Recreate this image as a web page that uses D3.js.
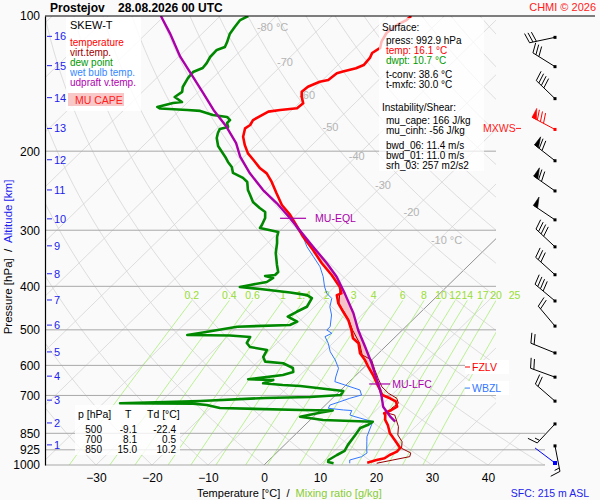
<!DOCTYPE html>
<html>
<head>
<meta charset="utf-8">
<script src="https://cdn.jsdelivr.net/npm/d3@7"></script>
<style>
  body { margin: 0; background: #fafafa; }
  svg text { font-family: "Liberation Sans", Arial, sans-serif; }
</style>
</head>
<body>
<svg id="chart" width="600" height="500"></svg>
<script>
// ---- data (pressure hPa, temperature °C) ----
const pressureTicks = [100, 200, 300, 400, 500, 600, 700, 850, 925, 1000];
const pressureLines = [200, 300, 400, 500, 600, 700, 850, 925, 1000];
const tempTicks = [-30, -20, -10, 0, 10, 20, 30, 40];
const mixRatios = [0.2, 0.4, 0.6, 1, 1.4, 2, 3, 4, 6, 8, 10, 12, 14, 17, 20, 25];
const isoLabelT = [-80, -70, -60, -50, -40, -30, -20, -10];
const isoLabelP = [105.8, 126.6, 150, 176.6, 205, 237.8, 273, 315];

const temperature = [
  [100,-55.9],[102.1,-56.0],[104.7,-56.8],[109.1,-57.2],[114.1,-56.5],[117.8,-55.6],[120.9,-56.1],
  [124.0,-55.6],[128.6,-55.4],[130.7,-56.2],[133.0,-57.9],[134.1,-58.7],[138.8,-59.0],[140.1,-60.2],
  [143.7,-61.4],[147.4,-61.6],[151.2,-60.7],[156.5,-59.2],[160.5,-59.4],[161.9,-62.1],[163.3,-63.9],
  [170.5,-65.1],[174.9,-64.7],[177.9,-65.0],[185.8,-63.8],[193.8,-62.0],[202.3,-59.9],[209.3,-57.7],
  [218.4,-55.0],[224.1,-52.9],[233.9,-50.5],[248.2,-47.5],[263.6,-44.4],[277.4,-41.1],[297.1,-37.2],
  [310.2,-34.8],[332,-30.6],[355.4,-26.6],[377.4,-22.7],[401,-19.1],[414.7,-17.6],[418.4,-18.1],
  [436.6,-16.3],[455.8,-13.9],[475.3,-11.5],[500.4,-9.1],[522.2,-7.3],[535.7,-5.4],[563.9,-3.3],
  [583.6,-1.2],[604,0.6],[630.3,3.0],[657.8,5.2],[680.6,7.0],[698.4,8.3],[710.3,10.3],[722.8,12.0],
  [741.5,13.1],[754.1,12.7],[767,12.0],[773.9,12.5],[793.8,13.4],[814.7,14.8],[848.5,16.6],
  [887.5,19.3],[916.5,21.2],[934,21.3],[950,20.6],[966,20.3],[975,19.2],[988,18.0]
];
const virtTemp = [
  [401,-19.0],[436.6,-16.2],[475.3,-11.4],[500.4,-8.9],[535.7,-5.2],[568.8,-2.6],[583.6,0.0],
  [614.3,2.4],[641,4.5],[669.3,6.7],[692.3,9.1],[710.3,11.5],[728.7,12.7],[747.6,12.4],[767,12.7],
  [773.9,14.2],[821.7,17.0],[857.3,18.4],[887.5,20.4],[917.9,21.5],[940,24.0],[958,24.5],
  [974.7,22.1],[991,19.8]
];
const dewPoint = [
  [100,-85.0],[102.1,-85.7],[105.8,-85.4],[109.7,-85.0],[114.3,-84.0],[117.2,-83.5],[119.0,-84.4],
  [123.4,-84.3],[127.3,-83.8],[130.6,-83.6],[133.3,-84.6],[137.4,-84.4],[143.9,-83.7],[147.6,-82.9],
  [151.5,-83.3],[155.4,-81.1],[156.2,-82.5],[159.4,-84.6],[160.7,-83.8],[161.9,-78.7],[162.7,-76.2],
  [166.1,-73.2],[167.8,-70.3],[170.5,-69.2],[173.1,-69.2],[176.6,-68.3],[178.5,-69.4],[182.2,-69.0],
  [186.9,-68.3],[194.7,-66.6],[200.8,-64.8],[206.0,-63.3],[211.4,-61.9],[216.9,-60.3],[223.6,-59.0],
  [229.4,-56.3],[234.2,-54.8],[244.1,-53.2],[250.4,-51.9],[259.6,-50.1],[267.7,-47.8],[273.2,-46.1],
  [281.8,-45.0],[292.1,-44.3],[296.6,-44.1],[298.9,-42.6],[302.7,-40.1],[310.6,-39.4],[320.3,-38.3],
  [337.2,-36.7],[358.5,-34.3],[371.6,-32.8],[377.4,-32.8],[379.3,-34.4],[383.2,-32.6],[391.2,-33.0],
  [397.2,-35.4],[401.3,-36.9],[405.5,-32.9],[412.8,-26.9],[418.4,-23.4],[424.8,-22.0],[444.2,-21.3],
  [455.8,-22.2],[467.4,-22.9],[479.5,-20.3],[487.7,-21.0],[492.0,-30.1],[508.1,-35.6],[513.4,-37.5],
  [514.7,-29.8],[518.6,-25.9],[534.9,-25.4],[546.0,-24.1],[554.4,-20.5],[574.7,-19.9],[588.6,-18.7],
  [593.5,-15.2],[608.0,-12.6],[620.6,-11.8],[630.3,-13.1],[644.3,-18.5],[646.6,-13.9],[657.8,-15.1],
  [663.5,-11.3],[666.9,-8.0],[684.1,0.6],[698.4,0.9],[705.5,-4.2],[709.1,-12.1],[720.1,-23.1],
  [728.7,-37.0],[730.0,-23.9],[735.3,-21.2],[746.7,-18.3],[754.1,-3.6],[756.3,2.3],[764.1,0.6],
  [780.5,-2.4],[793.8,2.3],[800.8,11.5],[814.7,11.2],[827,10.4],[857.3,10.8],[902,11.3],[930,11.8],
  [950,11.2],[974.7,10.6],[984.7,10.9],[991,12.1]
];
const wetBulb = [
  [272.8,-42.3],[284.6,-39.6],[297.1,-37.5],[310.2,-34.8],[326.4,-32.3],[343.6,-29.3],[361.7,-26.3],
  [380.7,-23.9],[401.0,-21.8],[414.7,-20.2],[425.5,-18.4],[444.2,-17.2],[463.3,-15.4],[492.0,-13.5],
  [500.4,-13.5],[508.9,-12.0],[517.8,-12.6],[535.7,-10.8],[559.5,-8.9],[583.6,-6.5],[608.9,-4.4],
  [636.7,-3.3],[652.2,-2.6],[663.5,-0.2],[680.6,3.4],[698.4,4.6],[710.3,3.1],[722.8,2.0],[735.3,0.8],
  [747.6,1.1],[754.1,4.1],[756.3,5.7],[773.9,6.2],[780.5,7.4],[800.8,11.5],[827,12.2],[864.8,13.2],
  [887.5,14.1],[926,15.6],[940.3,16.2],[958.3,15.9],[974.7,14.4],[991.3,15.0]
];
const parcel = [
  [100,-100.6],[109.3,-95.8],[123.2,-89.7],[135.3,-84.3],[148.6,-78.9],[161.9,-74.0],[176.5,-68.6],
  [191.9,-63.9],[205.7,-60.7],[224.1,-55.9],[244.1,-50.5],[261.3,-45.6],[282.2,-40.5],[300,-36.6],
  [326.4,-31.2],[355.4,-25.7],[380.7,-21.5],[414.7,-17.0],[459.3,-11.8],[500.4,-7.9],[545.1,-3.6],
  [593.5,0.6],[646.6,4.6],[680.6,7.0],[704.4,8.5],[741.5,10.6],[780.5,13.7],[800.8,15.5]
];
const capeTop = 282, capeBottom = 655;

const kmValues = [1, 2, 3, 4, 5, 6, 7, 8, 9, 10, 11, 12, 13, 14, 15, 16];
const kmPressure = [902, 806, 717, 634, 560, 488, 429, 375, 325, 283, 244, 209, 178, 152, 129, 111];
const windDir = [169, 223, 311, 290, 292, 320, 310, 312, 313, 304, 305, 308, 298, 314, 302, 258];
const windSpd = [15, 15, 20, 20, 20, 20, 40, 30, 40, 50, 70, 70, 80, 40, 30, 30];
const maxWindKm = 13;
const sfcWindDir = 307;

const levelNames = ["MU-EQL", "MU-LFC"];
const levelP = [282.2, 660];
const markNames = ["FZLV", "WBZL"];
const markP = [605, 674];
const markColors = ["#ff0000", "#3377ff"];

const legendLabels = ["temperature", "virt.temp.", "dew point", "wet bulb temp.", "udpraft v.temp."];
const legendColors = ["#ff0000", "#a00000", "#009900", "#3388ff", "#b000b0"];

const surfaceLines = [
  ["Surface:", "#000", 0], ["press: 992.9 hPa", "#000", 1], ["temp: 16.1 °C", "#ff0000", 1],
  ["dwpt: 10.7 °C", "#009900", 1], ["t-conv: 38.6 °C", "#000", 1], ["t-mxfc: 30.0 °C", "#000", 1],
  ["Instability/Shear:", "#000", 0], ["mu_cape: 166 J/kg", "#000", 1], ["mu_cinh: -56 J/kg", "#000", 1],
  ["bwd_06: 11.4 m/s", "#000", 1], ["bwd_01: 11.0 m/s", "#000", 1], ["srh_03: 257 m2/s2", "#000", 1]
];
const surfaceLineY = [27, 40, 50, 60, 74, 84, 107, 120, 130, 145, 155, 165];

const tableP = [500, 700, 850];
const tableT = [-9.1, 8.1, 15.0];
const tableTd = [-22.4, 0.5, 10.2];

// ---- scales ----
const svg = d3.select("#chart");
const plotTop = 16, plotBottom = 465, plotLeft = 45;
const y = d3.scaleLog().domain([1000, 100]).range([plotBottom, plotTop]);
const tx = d3.scaleLinear().domain([-30, 40]).range([96, 488]);
const SKEW = 1.025;
const X = (t, p) => tx(t) + SKEW * (plotBottom - y(p));

svg.append("rect").attr("width", 600).attr("height", 500).attr("fill", "#fafafa");

svg.append("clipPath").attr("id", "plotclip")
  .append("path").attr("d", `M${plotLeft},${plotTop}L496,${plotTop}L496,433L545,433L545,${plotBottom}L${plotLeft},${plotBottom}Z`);

const grid = svg.append("g").attr("clip-path", "url(#plotclip)");
const line = d3.line().x(d => X(d[1], d[0])).y(d => y(d[0]));

// isotherms
d3.range(-150, 61, 10).forEach(t => {
  grid.append("line")
    .attr("x1", X(t, 1000)).attr("y1", y(1000)).attr("x2", X(t, 100)).attr("y2", y(100))
    .attr("stroke", t === 0 ? "#777" : "#d6d6d6").attr("stroke-width", 0.8);
});

// dry adiabats
const pSteps = d3.range(0, 41).map(i => 1000 * Math.pow(0.1, i / 40));
d3.range(-40, 231, 10).forEach(th => {
  const pts = pSteps.map(p => [p, (th + 273.15) * Math.pow(p / 1000, 0.2857) - 273.15]);
  grid.append("path").attr("d", line(pts)).attr("fill", "none")
    .attr("stroke", "#d6d6d6").attr("stroke-width", 0.8);
});

// mixing ratio lines
const tdFromW = (w, p) => {
  const e = w * p / (622 + w);
  const a = Math.log(e / 6.112);
  return 243.5 * a / (17.67 - a);
};
const mixTop = 430;
const mixP = d3.range(0, 21).map(i => 1000 * Math.pow(mixTop / 1000, i / 20));
mixRatios.forEach(w => {
  grid.append("path").attr("d", line(mixP.map(p => [p, tdFromW(w, p)])))
    .attr("fill", "none").attr("stroke", "#aaee77").attr("stroke-width", 0.8);
});

// pressure lines
pressureLines.forEach(p => {
  svg.append("line").attr("x1", plotLeft).attr("x2", p >= 850 ? 545 : 496)
    .attr("y1", y(p)).attr("y2", y(p)).attr("stroke", "#a8a8a8").attr("stroke-width", 1);
});

// isotherm labels
isoLabelT.forEach((t, i) => {
  const lab = (t === -80 || t === -10) ? `${t} °C` : `${t}`;
  svg.append("text").attr("x", X(t, isoLabelP[i]) - 8).attr("y", y(isoLabelP[i]) + 4)
    .attr("font-size", 11).attr("fill", "#b4b4b4").text(lab);
});

// mixing ratio labels
mixRatios.forEach(w => {
  svg.append("text").attr("x", X(tdFromW(w, mixTop), mixTop)).attr("y", y(mixTop) - 1)
    .attr("text-anchor", "middle").attr("font-size", 10.5).attr("fill", "#99dd33")
    .text(w);
});

// CAPE area
const capeParcel = parcel.filter(d => d[0] >= capeTop && d[0] <= capeBottom);
const capeEnv = temperature.filter(d => d[0] >= capeTop && d[0] <= capeBottom).reverse();
svg.append("path").attr("d", line(capeParcel.concat(capeEnv)) + "Z")
  .attr("fill", "#f6c4c8").attr("stroke", "none");

// profiles
const curves = svg.append("g").attr("clip-path", "url(#plotclip)").attr("fill", "none")
  .attr("stroke-linejoin", "round");
curves.append("path").attr("d", line(wetBulb)).attr("stroke", "#3377ff").attr("stroke-width", 1);
curves.append("path").attr("d", line(dewPoint)).attr("stroke", "#008800").attr("stroke-width", 2.6);
curves.append("path").attr("d", line(virtTemp)).attr("stroke", "#990000").attr("stroke-width", 1);
curves.append("path").attr("d", line(temperature)).attr("stroke", "#ff0000").attr("stroke-width", 2.6);
curves.append("path").attr("d", line(parcel)).attr("stroke", "#aa00aa").attr("stroke-width", 2.4);

// EQL / LFC marks
const parcelAt = p => {
  const i = d3.bisector(d => d[0]).left(parcel, p);
  const a = parcel[Math.max(i - 1, 0)], b = parcel[Math.min(i, parcel.length - 1)];
  const f = b[0] === a[0] ? 0 : (Math.log(p) - Math.log(a[0])) / (Math.log(b[0]) - Math.log(a[0]));
  return a[1] + f * (b[1] - a[1]);
};
levelNames.forEach((nm, i) => {
  const p = levelP[i], xp = X(parcelAt(p), p);
  const off = i === 0 ? [-10, 16, 25] : [-9, 12, 14];
  svg.append("line").attr("x1", xp + off[0]).attr("x2", xp + off[1]).attr("y1", y(p)).attr("y2", y(p))
    .attr("stroke", "#aa00aa").attr("stroke-width", 1.2);
  svg.append("text").attr("x", xp + off[2]).attr("y", y(p) + 4).attr("font-size", 10.5)
    .attr("fill", "#aa00aa").text(nm);
});

// FZLV / WBZL
markNames.forEach((nm, i) => {
  const yy = y(markP[i]);
  svg.append("rect").attr("x", 465).attr("y", yy - 7).attr("width", 44).attr("height", 14).attr("fill", "#fff");
  svg.append("line").attr("x1", 465).attr("x2", 470).attr("y1", yy).attr("y2", yy).attr("stroke", markColors[i]);
  svg.append("text").attr("x", 472).attr("y", yy + 4).attr("font-size", 10.5).attr("fill", markColors[i]).text(nm);
});

// legend box
svg.append("rect").attr("x", 66).attr("y", 17).attr("width", 75).attr("height", 94).attr("fill", "#fff").attr("opacity", 0.85);
svg.append("text").attr("x", 70).attr("y", 29).attr("font-size", 11).text("SKEW-T");
legendLabels.forEach((l, i) => {
  svg.append("text").attr("x", 70).attr("y", 46 + i * 10).attr("font-size", 10).attr("fill", legendColors[i]).text(l);
});
svg.append("rect").attr("x", 68).attr("y", 93).attr("width", 56).attr("height", 13).attr("fill", "#f8c8c8");
svg.append("text").attr("x", 75).attr("y", 104).attr("font-size", 10.5).attr("fill", "#ff2020").text("MU CAPE");

// surface box
svg.append("rect").attr("x", 379).attr("y", 18).attr("width", 105).attr("height", 153).attr("fill", "#fff").attr("opacity", 0.72);
surfaceLines.forEach((s, i) => {
  svg.append("text").attr("x", s[2] ? 386 : 382).attr("y", surfaceLineY[i] + 3.5)
    .attr("font-size", 10).attr("fill", s[1]).text(s[0]);
});

// table box
svg.append("rect").attr("x", 75).attr("y", 405).attr("width", 105).attr("height", 50).attr("fill", "#fff").attr("opacity", 0.8);
svg.append("text").attr("x", 78).attr("y", 418).attr("font-size", 10.5).text("p [hPa]");
svg.append("text").attr("x", 125).attr("y", 418).attr("font-size", 10.5).text("T");
svg.append("text").attr("x", 147).attr("y", 418).attr("font-size", 10.5).text("Td [°C]");
tableP.forEach((p, i) => {
  const yy = 432.5 + i * 10;
  svg.append("text").attr("x", 102).attr("y", yy).attr("text-anchor", "end").attr("font-size", 10).text(p);
  svg.append("text").attr("x", 137).attr("y", yy).attr("text-anchor", "end").attr("font-size", 10).text(tableT[i].toFixed(1));
  svg.append("text").attr("x", 176).attr("y", yy).attr("text-anchor", "end").attr("font-size", 10).text(tableTd[i].toFixed(1));
});

// axes
const yAxis = svg.append("g").attr("transform", `translate(${plotLeft},0)`)
  .call(d3.axisLeft(y).tickValues(pressureTicks).tickFormat(d3.format("d")).tickSize(0).tickPadding(5));
yAxis.select(".domain").attr("stroke", "#000").attr("stroke-width", 1.2);
yAxis.selectAll("text").attr("font-size", 12).attr("fill", "#000").style("font-family", "Liberation Sans, Arial");

const xAxis = svg.append("g").attr("transform", `translate(0,${plotBottom})`)
  .call(d3.axisBottom(tx).tickValues(tempTicks).tickSize(0).tickPadding(8));
xAxis.select(".domain").remove();
xAxis.selectAll("text").attr("font-size", 12).attr("fill", "#000").style("font-family", "Liberation Sans, Arial");

svg.append("line").attr("x1", plotLeft).attr("x2", 595).attr("y1", plotTop).attr("y2", plotTop).attr("stroke", "#000").attr("stroke-width", 1.2);

// km ticks
kmValues.forEach((k, i) => {
  const yy = y(kmPressure[i]);
  svg.append("line").attr("x1", 47).attr("x2", 52).attr("y1", yy).attr("y2", yy).attr("stroke", "#2222ee");
  svg.append("text").attr("x", 54).attr("y", yy + 4).attr("font-size", 11).attr("fill", "#2222ee").text(k);
});

// titles
svg.append("text").attr("x", 50).attr("y", 12).attr("font-size", 12).attr("font-weight", "bold")
  .attr("xml:space", "preserve").text("Prostejov    28.08.2026 00 UTC");
svg.append("text").attr("x", 596).attr("y", 11).attr("text-anchor", "end").attr("font-size", 11)
  .attr("fill", "#ff2020").text("CHMI © 2026");
const xt = svg.append("text").attr("x", 197).attr("y", 497).attr("font-size", 11).attr("xml:space", "preserve");
xt.append("tspan").text("Temperature [°C]  /  ");
xt.append("tspan").attr("fill", "#88cc33").text("Mixing ratio [g/kg]");
svg.append("text").attr("x", 589).attr("y", 497).attr("text-anchor", "end").attr("font-size", 10.5)
  .attr("fill", "#2222ee").text("SFC: 215 m ASL");
const yt = svg.append("text").attr("transform", "translate(12,257) rotate(-90)").attr("text-anchor", "middle")
  .attr("font-size", 11.5).attr("xml:space", "preserve");
yt.append("tspan").text("Pressure [hPa]  /  ");
yt.append("tspan").attr("fill", "#2222ee").text("Altitude [km]");

// wind barbs
const bx = 555;
function barb(g, cx, cy, dir, spd, col) {
  const r = dir * Math.PI / 180;
  const ux = Math.sin(r), uy = -Math.cos(r);
  const nx = -uy, ny = ux;
  const L = 26;
  const ex = cx + L * ux, ey = cy + L * uy;
  g.append("line").attr("x1", cx).attr("y1", cy).attr("x2", ex).attr("y2", ey).attr("stroke", col);
  let s = spd, pos = 0;
  while (s >= 50) {
    const ax = ex - pos * ux, ay = ey - pos * uy;
    g.append("path").attr("d", `M${ax},${ay}L${ax + 10 * nx},${ay + 10 * ny}L${ax - 5 * ux},${ay - 5 * uy}Z`)
      .attr("fill", col).attr("stroke", col).attr("stroke-width", 0.6);
    pos += 6; s -= 50;
  }
  while (s >= 10) {
    const ax = ex - pos * ux, ay = ey - pos * uy;
    g.append("line").attr("x1", ax).attr("y1", ay)
      .attr("x2", ax + 10 * nx + 3 * ux).attr("y2", ay + 10 * ny + 3 * uy).attr("stroke", col);
    pos += 3.5; s -= 10;
  }
  if (s >= 5) {
    const ax = ex - pos * ux, ay = ey - pos * uy;
    g.append("line").attr("x1", ax).attr("y1", ay)
      .attr("x2", ax + 5 * nx + 1.5 * ux).attr("y2", ay + 5 * ny + 1.5 * uy).attr("stroke", col);
  }
  g.append("rect").attr("x", cx - 1.5).attr("y", cy - 1.5).attr("width", 3).attr("height", 3).attr("fill", col);
}
const barbs = svg.append("g");
kmValues.forEach((k, i) => {
  barb(barbs, bx, y(kmPressure[i]) + 1, windDir[i], windSpd[i], k === maxWindKm ? "#ff0000" : "#000");
});
{
  const r = sfcWindDir * Math.PI / 180, cy = 463;
  barbs.append("line").attr("x1", bx).attr("y1", cy).attr("x2", bx + 25 * Math.sin(r)).attr("y2", cy - 25 * Math.cos(r))
    .attr("stroke", "#0000ff");
  barbs.append("rect").attr("x", bx - 2).attr("y", cy - 2).attr("width", 4).attr("height", 4).attr("fill", "#0000ff");
}
svg.append("text").attr("x", 483).attr("y", y(kmPressure[maxWindKm - 1]) + 4).attr("font-size", 10.5)
  .attr("fill", "#ff2020").text("MXWS");
svg.append("line").attr("x1", 516).attr("x2", 521).attr("y1", y(kmPressure[maxWindKm - 1]))
  .attr("y2", y(kmPressure[maxWindKm - 1])).attr("stroke", "#ff2020");
</script>
</body>
</html>
